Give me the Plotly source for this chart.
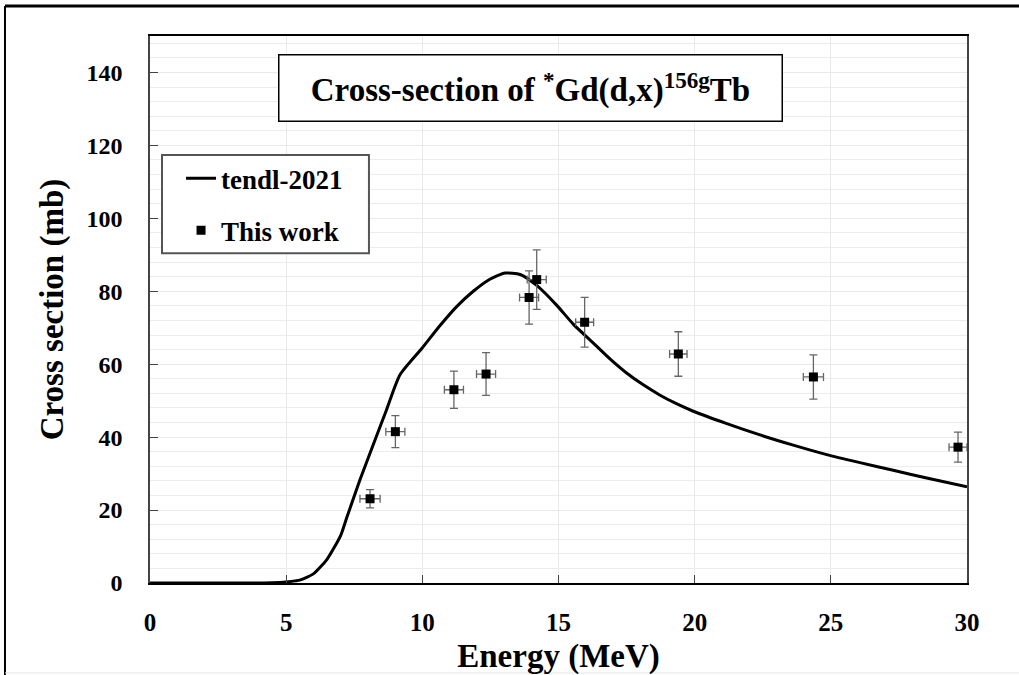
import plotly.graph_objects as go

# TENDL-2021 curve
tendl_energy = [0, 1, 2, 3, 4, 4.5, 5, 5.5, 6, 6.5, 7, 7.22, 7.71, 8.2, 8.69, 9.18, 9.98,
                10.65, 11.26, 11.87, 12.48, 13.04, 13.59, 14.2, 14.93, 15.54, 16.28, 16.9,
                17.5, 18.1, 18.73, 19.35, 19.95, 21.18, 22.4, 23.62, 24.85, 26.07, 27.29,
                28.52, 30]
tendl_xs = [0, 0, 0, 0, 0, 0.05, 0.3, 0.8, 2.5, 6.5, 13.0, 17.8, 28.3, 38.0, 47.6, 57.1, 64.3,
            70.6, 75.8, 80.0, 83.3, 85.0, 84.6, 81.6, 76.2, 71.0, 65.8, 61.4,
            57.6, 54.4, 51.5, 49.1, 47.1, 43.7, 40.6, 37.8, 35.2, 33.0, 30.9,
            28.8, 26.4]

# This work (measured points)
exp_energy = [8.08, 9.01, 11.16, 12.34, 13.92, 14.20, 15.96, 19.40, 24.36, 29.67]
exp_energy_err = [0.37, 0.35, 0.35, 0.35, 0.35, 0.35, 0.33, 0.32, 0.37, 0.33]
exp_xs = [23.1, 41.5, 53.0, 57.3, 78.3, 83.2, 71.5, 62.8, 56.5, 37.25]
exp_xs_err = [2.5, 4.4, 5.1, 5.85, 7.3, 8.15, 6.8, 6.1, 6.05, 4.1]

x_ticks = [0, 5, 10, 15, 20, 25, 30]
y_ticks = [0, 20, 40, 60, 80, 100, 120, 140]

FONT = "Liberation Serif"

fig = go.Figure()
fig.add_trace(go.Scatter(
    x=tendl_energy, y=tendl_xs, mode="lines", name="tendl-2021",
    line=dict(color="black", width=3, shape="spline", smoothing=0.6),
    legendgroup="a"))
fig.add_trace(go.Scatter(
    x=exp_energy, y=exp_xs, mode="markers", name="This work",
    marker=dict(symbol="square", size=9, color="black"),
    error_y=dict(type="data", array=exp_xs_err, color="#666666", thickness=1.3, width=4),
    error_x=dict(type="data", array=exp_energy_err, color="#666666", thickness=1.3, width=4),
    legendgroup="b"))

fig.update_layout(
    width=1019, height=675,
    margin=dict(l=150, r=52, t=36, b=92),
    paper_bgcolor="white", plot_bgcolor="white",
    font=dict(family=FONT, color="black", size=24, weight="bold"),
    showlegend=True,
    legend=dict(x=0.038, y=0.784, xanchor="left", yanchor="top",
                bgcolor="rgba(0,0,0,0)", borderwidth=0,
                font=dict(family=FONT, size=27, weight="bold"),
                tracegroupgap=14, itemwidth=30),
    xaxis=dict(range=[0, 30], tickvals=x_ticks, ticks="inside", ticklen=8,
               tickcolor="#444", showline=True, linecolor="black", linewidth=2,
               mirror=True, showgrid=True, gridcolor="#e9e9e9", gridwidth=1,
               zeroline=False, ticklabelstandoff=16, automargin=False,
               tickfont=dict(family=FONT, size=25, weight="bold"),
               title=dict(text="Energy (MeV)", standoff=16,
                          font=dict(family=FONT, size=33, weight="bold"))),
    yaxis=dict(range=[0, 150], tickvals=y_ticks, ticks="inside", ticklen=8,
               tickcolor="#444", showline=True, linecolor="#444", linewidth=1.5,
               mirror=True, showgrid=True, gridcolor="#e9e9e9", gridwidth=1,
               minor=dict(dtick=4, showgrid=True, gridcolor="#ececec", gridwidth=1),
               zeroline=False, ticklabelstandoff=21, automargin=False,
               tickfont=dict(family=FONT, size=24, weight="bold"),
               title=dict(text="Cross section (mb)", standoff=13,
                          font=dict(family=FONT, size=33, weight="bold"))),
    annotations=[dict(
        text="Cross-section of <sup>*</sup>Gd(d,x)<sup>156g</sup>Tb",
        xref="paper", yref="paper", x=0.4663, y=0.905,
        xanchor="center", yanchor="middle", showarrow=False,
        font=dict(family=FONT, size=33, weight="bold", color="black"),
        bgcolor="white", bordercolor="black", borderwidth=1.5,
        width=494, height=57, borderpad=4)],
    shapes=[
        # legend frame
        dict(type="rect", xref="paper", yref="paper", x0=0.0147, x1=0.268,
             y0=0.603, y1=0.7824, layer="above", fillcolor="white",
             line=dict(color="#555555", width=2)),
        # outer figure frame
        dict(type="line", xref="paper", yref="paper", x0=-0.1775, x1=1.07,
             y0=1.0548, y1=1.0548, line=dict(color="black", width=3)),
        dict(type="line", xref="paper", yref="paper", x0=-0.1775, x1=-0.1775,
             y0=1.0548, y1=-0.18, line=dict(color="black", width=2)),
        dict(type="line", xref="paper", yref="paper", x0=-0.1775, x1=1.07,
             y0=-0.1645, y1=-0.1645, line=dict(color="#e4e4e4", width=1)),
    ],
)

fig.write_html("out.html", config={"displayModeBar": False},
               post_script="document.body.style.margin='0px';")
